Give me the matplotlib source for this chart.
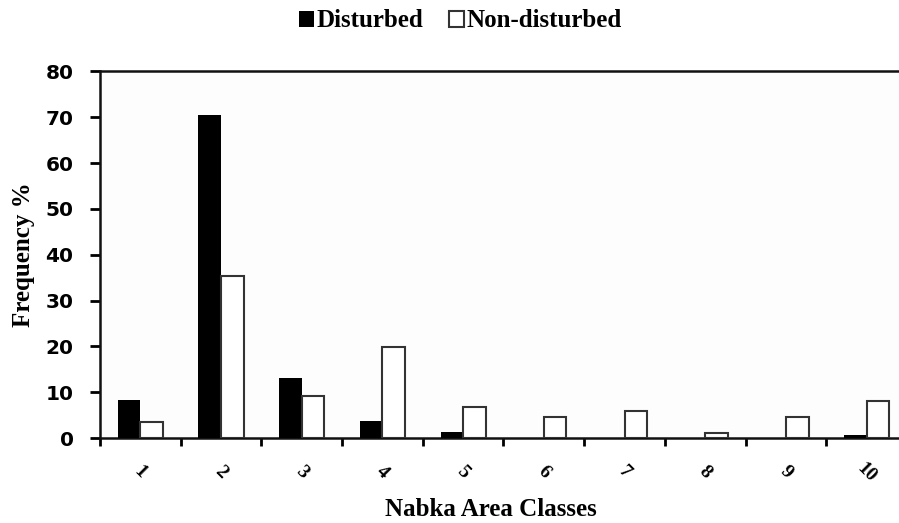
import numpy as np
import matplotlib
matplotlib.use("Agg")
import matplotlib.pyplot as plt

# Data
classes = ["1", "2", "3", "4", "5", "6", "7", "8", "9", "10"]
disturbed = [8.4, 70.4, 13.2, 3.8, 1.4, 0, 0, 0, 0, 0.6]
non_disturbed = [3.4, 35.3, 9.2, 19.8, 6.8, 4.5, 5.9, 1.1, 4.5, 8.0]

serif = "Liberation Serif"
sans = "DejaVu Sans"

fig = plt.figure(figsize=(8.99, 5.23), dpi=100)
ax = fig.add_axes([0.1112, 0.1625, 0.8977, 0.7008])
ax.set_facecolor("#fdfdfd")

x = np.arange(len(classes))
w = 0.28
ax.bar(x - w / 2, disturbed, w, color="black", linewidth=0,
       label="Disturbed", zorder=3)
ax.bar(x + w / 2, non_disturbed, w, color="white", edgecolor="#333333", linewidth=1.5,
       label="Non-disturbed", zorder=3)

ax.set_xlim(-0.5, len(classes) - 0.5)
ax.set_ylim(0, 80)
ax.set_yticks(range(0, 81, 10))
ax.set_yticklabels([str(v) for v in range(0, 81, 10)], fontfamily=sans,
                   fontweight="heavy", fontsize=14.5)

# category ticks sit between the groups, labels centred under them
ax.set_xticks(np.arange(-0.5, len(classes), 1.0))
ax.set_xticklabels([])
ax.set_xticks(x, minor=True)
ax.set_xticklabels(classes, minor=True, rotation=-45, fontfamily=serif,
                   fontweight="bold", fontsize=14, ha="center", va="center")
ax.tick_params(axis="x", which="minor", length=0, pad=25)
ax.tick_params(axis="x", which="major", direction="out", length=6, width=2)
ax.tick_params(axis="y", direction="out", length=7, width=2, pad=12)

for side in ["top", "left", "bottom", "right"]:
    ax.spines[side].set_linewidth(1.8)
    ax.spines[side].set_color("#111111")

ax.set_ylabel("Frequency %", fontfamily=serif, fontweight="bold", fontsize=18)
ax.yaxis.set_label_coords(-0.080, 0.5)
ax.set_xlabel("Nabka Area Classes", fontfamily=serif, fontweight="bold",
              fontsize=18)
ax.xaxis.set_label_coords(0.484, -0.163)

fig.legend(loc="upper center", bbox_to_anchor=(0.512, 1.025), ncol=2, frameon=False,
           handlelength=0.6, handleheight=0.6, handletextpad=0.1, columnspacing=1.0,
           prop={"family": serif, "weight": "bold", "size": 18})

fig.savefig("out.png", dpi=100)
